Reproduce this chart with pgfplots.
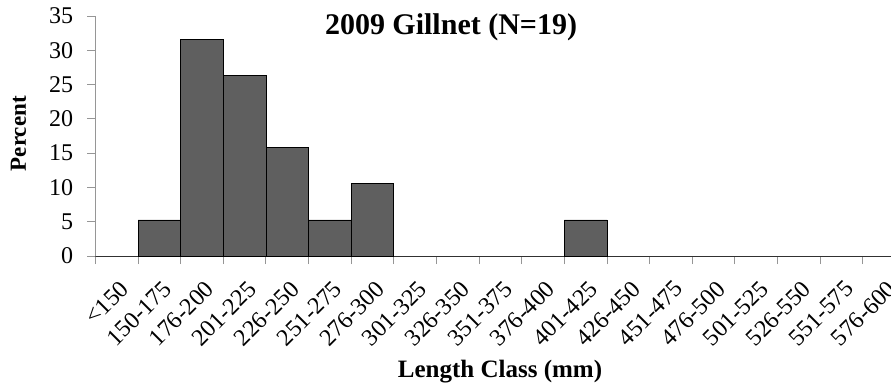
\documentclass[border=0pt]{standalone}
\usepackage{pgfplots}
\pgfplotsset{compat=1.18}
\usepackage{fontspec}
\setmainfont{Liberation Serif}
\definecolor{axgray}{RGB}{150,150,150}
\definecolor{barfill}{RGB}{95,95,95}
\newcommand{\tickfont}{\fontsize{24}{28}\selectfont}
\begin{document}
\begin{tikzpicture}
\begin{axis}[
  at={(0,0)}, anchor=south west,
  scale only axis, width=795.6pt, height=240pt,
  xmin=-0.5, xmax=18.16, ymin=0, ymax=35,
  axis x line=bottom, axis y line=left,
  axis line style={axgray, line width=1pt, -},
  ytick={0,5,...,35},
  xtick={0,...,18},
  xticklabels={<150,150-175,176-200,201-225,226-250,251-275,276-300,301-325,326-350,351-375,376-400,401-425,426-450,451-475,476-500,501-525,526-550,551-575,576-600},
  minor xtick={-0.5,0.5,...,17.5},
  major x tick style={draw=none},
  tick align=outside,
  major tick length=8pt, minor tick length=8pt,
  tick style={axgray, line width=1pt},
  /pgf/number format/assume math mode=true,
  yticklabel={\tickfont\pgfmathprintnumber{\tick}},
  yticklabel style={anchor=east, inner sep=0pt, xshift=-14pt, font=\tickfont},
  xticklabel style={anchor=north east, inner sep=0pt, xshift=2pt, yshift=-15pt, rotate=45, font=\tickfont},
  clip=false,
]
\addplot[ybar, bar width=1, fill=barfill, draw=black, line width=0.8pt] coordinates {
(0,0) (1,5.26) (2,31.58) (3,26.32) (4,15.79) (5,5.26) (6,10.53) (7,0) (8,0) (9,0)
(10,0) (11,5.26) (12,0) (13,0) (14,0) (15,0) (16,0) (17,0) (18,0)};
\node[anchor=base, font=\bfseries\fontsize{30}{34}\selectfont] at (rel axis cs:0.447,0.921) {2009 Gillnet (N=19)};
\node[rotate=90, font=\bfseries\fontsize{23}{26}\selectfont] at (rel axis cs:-0.0967,0.51) {Percent};
\node[font=\bfseries\fontsize{25}{28}\selectfont] at (rel axis cs:0.5086,-0.483) {Length Class (mm)};
\end{axis}
\pgfresetboundingbox
\useasboundingbox (-95.4pt,-130pt) rectangle (795.6pt,256pt);
\end{tikzpicture}
\end{document}
